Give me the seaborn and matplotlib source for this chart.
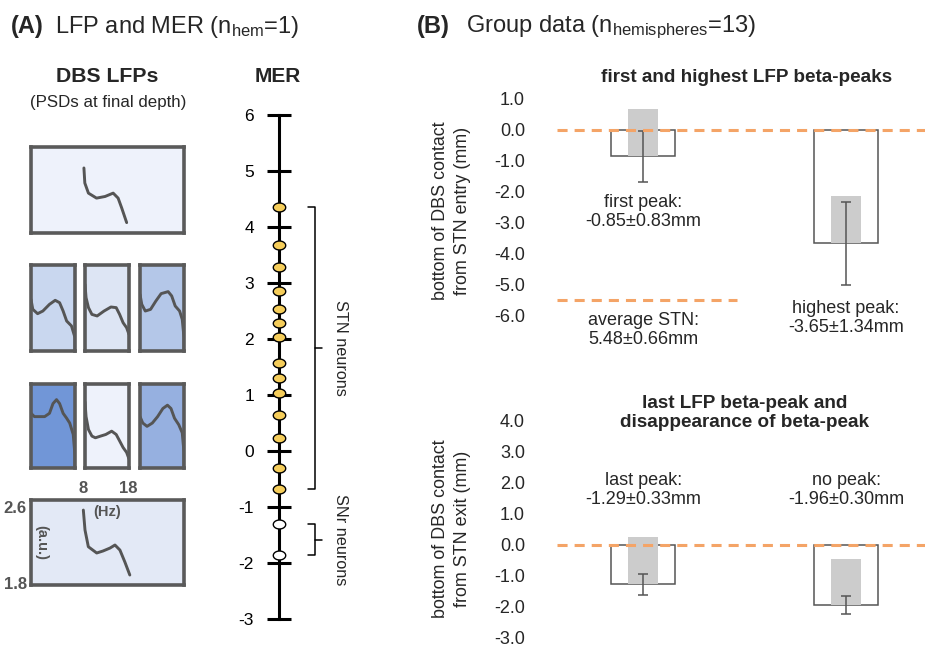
import numpy as np
import matplotlib
matplotlib.use("Agg")
import matplotlib.pyplot as plt
import seaborn as sns
from matplotlib.path import Path
from matplotlib.markers import MarkerStyle

# ---------------- data ----------------
# MER recording depths (mm)
stn_depths = [4.35, 3.68, 3.29, 2.86, 2.53, 2.29, 2.03, 1.57, 1.30, 1.03, 0.64, 0.23, -0.30, -0.67]
snr_depths = [-1.31, -1.86]
mer_ticks = [-3, -2, -1, 0, 1, 2, 3, 4, 5, 6]

# PSD curves (Hz, a.u.)
psd_r1_f = [8.2, 8.4, 9.2, 11.0, 12.9, 14.7, 15.8, 16.6, 17.7]
psd_r1_p = [2.457, 2.30, 2.195, 2.143, 2.16, 2.195, 2.143, 2.04, 1.888]

psd_r2a_f = [8.0, 8.4, 9.5, 10.7, 12.2, 13.5, 14.5, 15.3, 16.1, 17.2, 18.0, 18.0]
psd_r2a_p = [2.324, 2.216, 2.168, 2.197, 2.27, 2.314, 2.288, 2.197, 2.088, 2.034, 1.906, 1.75]
psd_r2b_f = [8.0, 8.24, 8.79, 9.57, 10.76, 12.33, 13.9, 15.09, 15.87, 16.66, 17.45, 18.0]
psd_r2b_p = [2.488, 2.343, 2.234, 2.16, 2.143, 2.197, 2.241, 2.234, 2.16, 2.069, 2.015, 1.942]
psd_r2c_f = [8.0, 8.4, 9.2, 10.4, 11.6, 12.8, 14.4, 15.2, 16.0, 17.0, 17.6, 18.0, 18.0]
psd_r2c_p = [2.379, 2.27, 2.197, 2.215, 2.306, 2.387, 2.409, 2.362, 2.252, 2.197, 2.106, 1.906, 1.75]

psd_r3a_f = [8.0, 8.77, 9.9, 11.1, 12.2, 13.0, 13.8, 14.5, 15.3, 16.1, 16.8, 17.6, 18.0, 18.0]
psd_r3a_p = [2.372, 2.335, 2.335, 2.335, 2.372, 2.481, 2.525, 2.481, 2.372, 2.317, 2.263, 2.135, 1.898, 1.75]
psd_r3b_f = [8.0, 8.24, 8.79, 9.57, 10.36, 11.54, 12.72, 14.06, 15.09, 15.87, 16.66, 17.45, 18.0]
psd_r3b_p = [2.5, 2.335, 2.19, 2.117, 2.098, 2.117, 2.135, 2.172, 2.135, 2.063, 1.989, 1.935, 1.862]
psd_r3c_f = [8.0, 8.64, 9.6, 10.8, 12.0, 13.2, 14.24, 15.04, 15.84, 16.8, 17.6, 18.0, 18.0]
psd_r3c_p = [2.335, 2.263, 2.226, 2.263, 2.335, 2.426, 2.463, 2.426, 2.317, 2.245, 2.154, 1.935, 1.75]

psd_r4_f = [8.07, 8.44, 9.18, 11.04, 12.44, 14.0, 15.1, 16.2, 17.3, 18.4]
psd_r4_p = [2.568, 2.358, 2.182, 2.116, 2.137, 2.168, 2.2, 2.147, 2.021, 1.884]

psd_fills = ["#eef2fb", "#c9d7ef", "#dde5f4", "#b4c7e8", "#7196d7", "#eef2fb", "#96b0e0", "#e3e9f6"]
psd_xticks = [8, 18]
psd_yticks = [1.8, 2.6]

# Group data
top_names = ["first peak", "highest peak"]
top_means = [-0.85, -3.65]
top_sds = [0.83, 1.34]
top_single = [0.68, -2.13]
avg_stn_mean = 5.48
avg_stn_sd = 0.66
top_ticks = [1.0, 0.0, -1.0, -2.0, -3.0, -4.0, -5.0, -6.0]

bot_names = ["last peak", "no peak"]
bot_means = [-1.29, -1.96]
bot_sds = [0.33, 0.30]
bot_single = [0.24, -0.46]
bot_ticks = [4.0, 3.0, 2.0, 1.0, 0.0, -1.0, -2.0, -3.0]

# ---------------- style ----------------
sns.set_style("white")
plt.rcParams["font.family"] = ["Liberation Sans", "DejaVu Sans"]
plt.rcParams["axes.unicode_minus"] = False
plt.rcParams["mathtext.default"] = "regular"

W, H = 925, 651
fig = plt.figure(figsize=(W / 100, H / 100), dpi=100)


def px_rect(x0, y0, x1, y1):
    return [x0 / W, 1 - y1 / H, (x1 - x0) / W, (y1 - y0) / H]


GREY = "#555555"
ORANGE = "#f4a467"

# ---------------- panel titles ----------------
fig.text(11 / W, 1 - 27 / H, "(A)", fontsize=17, fontweight="bold", ha="left", va="center")
fig.text(55 / W, 1 - 27 / H, r"LFP and MER ($\mathregular{n_{hem}}$=1)", fontsize=17, ha="left", va="center")
fig.text(417 / W, 1 - 27 / H, "(B)", fontsize=17, fontweight="bold", ha="left", va="center")
fig.text(466 / W, 1 - 27 / H, r"Group data ($\mathregular{n_{hemispheres}}$=13)", fontsize=17, ha="left", va="center")

fig.text(107 / W, 1 - 77 / H, "DBS LFPs", fontsize=15.3, fontweight="bold", ha="center", va="center")
fig.text(108 / W, 1 - 103 / H, "(PSDs at final depth)", fontsize=12.2, ha="center", va="center")
fig.text(278 / W, 1 - 77 / H, "MER", fontsize=15, fontweight="bold", ha="center", va="center")


# ---------------- PSD boxes ----------------
def psd_box(rect, fill, f, p, xlim, ylim):
    ax = fig.add_axes(rect)
    ax.set_facecolor(fill)
    sns.lineplot(x=f, y=p, ax=ax, sort=False, estimator=None, color=GREY, lw=2.1)
    ax.set_xlim(*xlim)
    ax.set_ylim(*ylim)
    ax.set_xticks([])
    ax.set_yticks([])
    for s in ax.spines.values():
        s.set_visible(True)
        s.set_color("#5a5a5a")
        s.set_linewidth(2.6)
    return ax


big_x = (-3.56, 30.44)
big_y = (1.78, 2.675)
small_x = (8, 18)
small_y = (1.76, 2.70)

psd_box(px_rect(31, 147, 184, 233), psd_fills[0], psd_r1_f, psd_r1_p, big_x, big_y)
psd_box(px_rect(31, 265, 75, 351), psd_fills[1], psd_r2a_f, psd_r2a_p, small_x, small_y)
psd_box(px_rect(85, 265, 129, 351), psd_fills[2], psd_r2b_f, psd_r2b_p, small_x, small_y)
psd_box(px_rect(140, 265, 184, 351), psd_fills[3], psd_r2c_f, psd_r2c_p, small_x, small_y)
psd_box(px_rect(31, 384, 75, 468), psd_fills[4], psd_r3a_f, psd_r3a_p, small_x, small_y)
psd_box(px_rect(85, 384, 129, 468), psd_fills[5], psd_r3b_f, psd_r3b_p, small_x, small_y)
psd_box(px_rect(140, 384, 184, 468), psd_fills[6], psd_r3c_f, psd_r3c_p, small_x, small_y)
axb = psd_box(px_rect(31, 500, 184, 585), psd_fills[7], psd_r4_f, psd_r4_p, big_x, (1.779, 2.674))

axb.xaxis.tick_top()
axb.set_xticks(psd_xticks)
axb.set_xticklabels([str(v) for v in psd_xticks])
axb.set_yticks(psd_yticks)
axb.set_yticklabels([f"{v:.1f}" for v in psd_yticks])
axb.tick_params(length=0, pad=3, labelsize=12, labelcolor=GREY)
for lab in axb.get_xticklabels() + axb.get_yticklabels():
    lab.set_fontweight("bold")
axb.text(0.497, 0.86, "(Hz)", transform=axb.transAxes, ha="center", va="center",
         fontsize=10.5, fontweight="bold", color=GREY)
axb.text(0.07, 0.50, "(a.u.)", transform=axb.transAxes, ha="center", va="center",
         fontsize=10.5, fontweight="bold", color=GREY, rotation=270)

# ---------------- MER axis ----------------
axm = fig.add_axes(px_rect(230, 103.8, 380, 630.2))
axm.set_xlim(0, 150)
axm.set_ylim(-3.2, 6.2)
axm.patch.set_alpha(0)
for k in ["top", "right", "bottom"]:
    axm.spines[k].set_visible(False)
axm.spines["left"].set_position(("data", 49))
axm.spines["left"].set_bounds(min(mer_ticks), max(mer_ticks))
axm.spines["left"].set_linewidth(2.2)
axm.spines["left"].set_color("black")
axm.set_xticks([])
axm.set_yticks(mer_ticks)
axm.set_yticklabels([str(t) for t in mer_ticks])
axm.tick_params(axis="y", direction="inout", length=17.3, width=2.2, pad=9.3,
                labelsize=12.5, left=True, colors="black")

theta = np.linspace(0, 2 * np.pi, 64)
ell = MarkerStyle(Path(np.c_[np.cos(theta), 0.72 * np.sin(theta)], closed=True))
sns.scatterplot(x=[49] * len(stn_depths), y=stn_depths, ax=axm, marker=ell, s=80,
                color="#f5cd5a", edgecolor="black", linewidth=1.0, zorder=4, clip_on=False)
sns.scatterplot(x=[49] * len(snr_depths), y=snr_depths, ax=axm, marker=ell, s=80,
                color="white", edgecolor="black", linewidth=1.0, zorder=4, clip_on=False)


def bracket(ax, vals, label):
    top, bot = max(vals), min(vals)
    mid = (top + bot) / 2
    ax.plot([78, 85, 85, 78], [top, top, bot, bot], color="black", lw=1.1, clip_on=False)
    ax.plot([85, 92], [mid, mid], color="black", lw=1.1, clip_on=False)
    ax.text(110, mid, label, rotation=270, ha="center", va="center", fontsize=11.7)


bracket(axm, stn_depths, "STN neurons")
bracket(axm, snr_depths, "SNr neurons")


# ---------------- group bar panels ----------------
def group_panel(rect, names, means, sds, single, ticks, ylim, title, title_xy, ylabel, label_y):
    ax = fig.add_axes(rect)
    sns.barplot(x=names, y=means, ax=ax, color="white", edgecolor=GREY, linewidth=1.1,
                width=0.315, errorbar=None, saturation=1)
    pos = np.arange(len(names))
    ax.bar(pos, np.subtract(single, means), bottom=means, width=0.146, color="#cccccc",
           zorder=3, linewidth=0)
    ax.errorbar(pos, means, yerr=sds, fmt="none", ecolor=GREY, elinewidth=1.1,
                capsize=3.3, capthick=1.1, zorder=4)
    ax.axhline(0, color=ORANGE, lw=2.2, ls=(0, (3.3, 2.3)), zorder=5)
    ax.set_xlim(-0.424, 1.389)
    ax.set_ylim(*ylim)
    ax.set_xticks([])
    ax.set_xlabel("")
    ax.set_yticks(ticks)
    ax.set_yticklabels([f"{t:.1f}" for t in ticks])
    ax.tick_params(axis="y", length=0, pad=23, labelsize=13)
    for s in ax.spines.values():
        s.set_visible(False)
    ax.set_ylabel(ylabel, fontsize=12.9, linespacing=1.35)
    ax.yaxis.set_label_coords(-0.234, 0.5)
    ax.text(title_xy[0], title_xy[1], title, transform=ax.transAxes, ha="center",
            va="center", fontsize=13.6, fontweight="bold", linespacing=1.1)
    for i, (n, m, s) in enumerate(zip(names, means, sds)):
        ax.text(i, label_y[i], f"{n}:\n{m:.2f}\u00b1{s:.2f}mm", ha="center", va="center",
                fontsize=13, linespacing=1.2)
    return ax


axT = group_panel(px_rect(557, 89.7, 925, 331.5), top_names, top_means, top_sds, top_single,
                  top_ticks, (-6.5, 1.3), "first and highest LFP beta-peaks", (0.516, 1.0525),
                  "bottom of DBS contact\nfrom STN entry (mm)", [-2.65, -6.06])
axT.axhline(-avg_stn_mean, xmin=0, xmax=0.489, color=ORANGE, lw=2.2, ls=(0, (3.3, 2.3)), zorder=5)
axT.text(0, -6.45, f"average STN:\n{avg_stn_mean:.2f}\u00b1{avg_stn_sd:.2f}mm", ha="center",
         va="center", fontsize=13, linespacing=1.2)

axB = group_panel(px_rect(557, 411.6, 925, 646.5), bot_names, bot_means, bot_sds, bot_single,
                  bot_ticks, (-3.3, 4.3), "last LFP beta-peak and\ndisappearance of beta-peak",
                  (0.511, 0.9936), "bottom of DBS contact\nfrom STN exit (mm)", [1.76, 1.76])

fig.savefig("out.png", dpi=100)
